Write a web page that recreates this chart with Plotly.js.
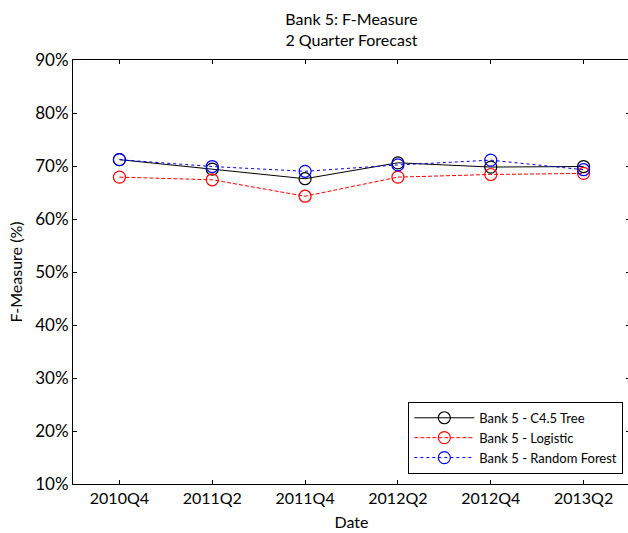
<!DOCTYPE html>
<html>
<head>
<meta charset="utf-8">
<script src="https://cdn.plot.ly/plotly-3.0.1.min.js"></script>
<style>
html, body { margin: 0; padding: 0; overflow: hidden; background: #fff; }
#chart { width: 632px; height: 533px; }
</style>
</head>
<body>
<div id="chart"></div>
<script>
const dates = ["2010Q4", "2011Q2", "2011Q4", "2012Q2", "2012Q4", "2013Q2"];
const treeValues = [71.2, 69.4, 67.6, 70.6, 69.8, 69.9];
const logisticValues = [67.9, 67.4, 64.3, 67.9, 68.4, 68.6];
const forestValues = [71.2, 69.9, 69.0, 70.2, 71.1, 69.3];
const yTicks = [10, 20, 30, 40, 50, 60, 70, 80, 90];

const FONT = "Lato, 'Open Sans', sans-serif";

function series(name, values, color, dash) {
  return {
    type: "scatter",
    mode: "lines+markers",
    name: name,
    x: dates,
    y: values,
    line: { color: color, width: 1, dash: dash },
    marker: { symbol: "circle-open", size: 12, color: color, line: { width: 1.2, color: color } }
  };
}

const data = [
  series("Bank 5 - C4.5 Tree", treeValues, "#000000", "solid"),
  series("Bank 5 - Logistic", logisticValues, "#ff0000", "4px,2px"),
  series("Bank 5 - Random Forest", forestValues, "#0000ff", "dot")
];

const layout = {
  width: 630,
  height: 533,
  margin: { l: 73, r: 0, t: 60, b: 49 },
  paper_bgcolor: "#ffffff",
  plot_bgcolor: "#ffffff",
  font: { family: FONT, size: 16, color: "#000" },
  title: {
    text: "Bank 5: F-Measure<br>2 Quarter Forecast",
    font: { family: FONT, size: 16, color: "#000" },
    x: 0.5, xref: "paper", xanchor: "center",
    y: 1, yref: "paper", yanchor: "bottom",
    pad: { b: 35 }
  },
  showlegend: true,
  legend: {
    x: 0.988, y: 0.024, xanchor: "right", yanchor: "bottom",
    bgcolor: "#ffffff", bordercolor: "#000000", borderwidth: 1,
    font: { family: FONT, size: 13, color: "#000" },
    itemwidth: 60,
    tracegroupgap: 0
  },
  xaxis: {
    type: "category",
    range: [-0.5, 5.5],
    showline: true, linecolor: "#000", linewidth: 1, mirror: "ticks",
    ticks: "inside", ticklen: 4, tickcolor: "#000",
    showgrid: false, zeroline: false,
    tickfont: { family: FONT, size: 16, color: "#000" },
    title: { text: "Date", font: { family: FONT, size: 16, color: "#000" }, standoff: 10 }
  },
  yaxis: {
    range: [10, 90],
    tickvals: yTicks,
    ticktext: yTicks.map(v => v + "%"),
    showline: true, linecolor: "#000", linewidth: 1, mirror: "ticks",
    ticks: "inside", ticklen: 4, tickcolor: "#000",
    showgrid: false, zeroline: false,
    tickfont: { family: FONT, size: 17, color: "#000" },
    title: { text: "F-Measure (%)", font: { family: FONT, size: 16, color: "#000" }, standoff: 8 }
  }
};

Plotly.newPlot("chart", data, layout, { displayModeBar: false, staticPlot: true });
</script>
</body>
</html>
